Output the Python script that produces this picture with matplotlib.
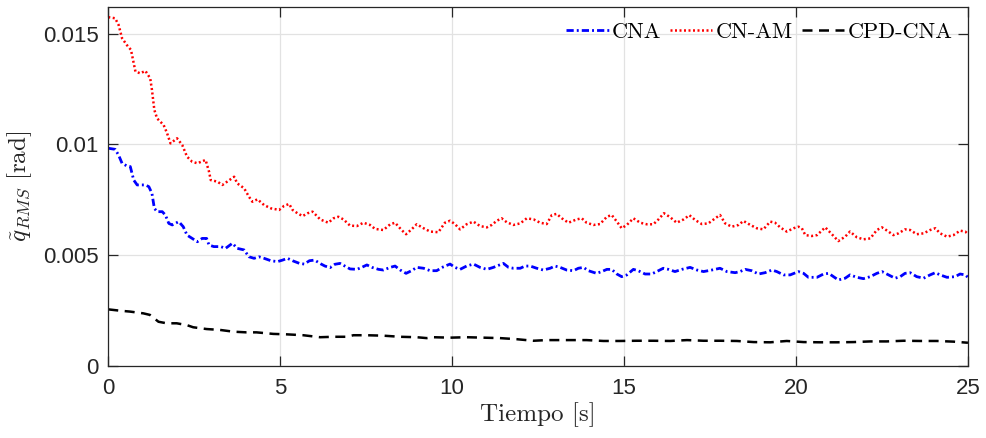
import numpy as np
import matplotlib
matplotlib.use("Agg")
import matplotlib.pyplot as plt

# ---------------- data ----------------
cna_t = [0.0, 0.2, 0.3, 0.4, 0.54, 0.64, 0.74, 0.84, 1.08, 1.18, 1.27, 1.34, 1.42, 1.57, 1.66,
         1.76, 1.86, 2.05, 2.18, 2.29, 2.44, 2.59, 2.73, 2.86, 2.93, 3.07, 3.27, 3.41, 3.61, 3.75,
         3.95, 4.09, 4.24, 4.38, 4.53, 4.73, 4.92, 5.07, 5.21, 5.36, 5.56, 5.70, 5.85, 6.00, 6.19,
         6.30, 6.45, 6.59, 6.74, 6.88, 7.03, 7.23, 7.37, 7.52, 7.67, 7.86, 8.00, 8.20, 8.34, 8.49,
         8.66, 8.82, 8.97, 9.17, 9.36, 9.55, 9.75, 9.94, 10.08, 10.23, 10.42, 10.62, 10.81, 11.01,
         11.20, 11.49, 11.64, 11.78, 11.98, 12.12, 12.27, 12.46, 12.65, 12.85, 12.99, 13.14, 13.33,
         13.53, 13.67, 13.82, 13.96, 14.20, 14.35, 14.50, 14.64, 14.79, 14.93, 15.08, 15.27, 15.41,
         15.61, 15.80, 15.95, 16.14, 16.29, 16.48, 16.68, 16.92, 17.12, 17.31, 17.55, 17.79, 17.99,
         18.23, 18.37, 18.52, 18.71, 18.91, 19.10, 19.30, 19.44, 19.64, 19.83, 20.07, 20.22, 20.36,
         20.61, 20.80, 20.95, 21.09, 21.23, 21.43, 21.57, 21.77, 21.96, 22.16, 22.35, 22.50, 22.69,
         22.88, 23.03, 23.17, 23.32, 23.51, 23.71, 23.90, 24.05, 24.19, 24.39, 24.63, 24.77, 24.92,
         25.0]
cna_q = [0.00983, 0.00978, 0.00952, 0.00915, 0.00903, 0.00900, 0.00839, 0.00817, 0.00817, 0.00809,
         0.00779, 0.00711, 0.00696, 0.00696, 0.00681, 0.00643, 0.00636, 0.00651, 0.00628, 0.00590,
         0.00575, 0.00560, 0.00575, 0.00575, 0.00545, 0.00538, 0.00538, 0.00530, 0.00553, 0.00530,
         0.00523, 0.00492, 0.00485, 0.00492, 0.00485, 0.00474, 0.00470, 0.00477, 0.00485, 0.00474,
         0.00462, 0.00459, 0.00474, 0.00477, 0.00459,
         0.00450, 0.00443, 0.00458, 0.00462, 0.00450, 0.00437, 0.00435, 0.00444, 0.00455, 0.00444,
         0.00435, 0.00432, 0.00444, 0.00450, 0.00432, 0.00417, 0.00429, 0.00444, 0.00440, 0.00429,
         0.00429, 0.00447, 0.00459, 0.00444, 0.00435, 0.00450, 0.00459, 0.00444, 0.00435, 0.00444,
         0.00462, 0.00444, 0.00440, 0.00440, 0.00450, 0.00450, 0.00440, 0.00432, 0.00440, 0.00450,
         0.00444, 0.00432, 0.00429, 0.00440, 0.00444, 0.00429, 0.00417, 0.00425, 0.00435, 0.00435,
         0.00414, 0.00402, 0.00410, 0.00435, 0.00429,
         0.00414, 0.00414, 0.00425, 0.00440, 0.00435, 0.00425, 0.00435, 0.00444, 0.00432, 0.00425,
         0.00432, 0.00440, 0.00425, 0.00420, 0.00425, 0.00435, 0.00429, 0.00414, 0.00420, 0.00432,
         0.00425, 0.00410, 0.00410, 0.00425, 0.00417, 0.00399, 0.00399, 0.00414, 0.00417, 0.00402,
         0.00387, 0.00395, 0.00410, 0.00399, 0.00393, 0.00402, 0.00417, 0.00425, 0.00410, 0.00395,
         0.00402, 0.00417, 0.00420, 0.00402, 0.00395, 0.00410, 0.00420, 0.00410, 0.00399, 0.00402,
         0.00414, 0.00410, 0.00399]

cnam_t = [0.0, 0.2, 0.3, 0.4, 0.54, 0.66, 0.74, 0.79, 0.93, 1.08, 1.22, 1.27, 1.34, 1.42, 1.61,
          1.71, 1.81, 2.0, 2.15, 2.29, 2.44, 2.59, 2.83, 2.93, 2.98, 3.17, 3.32, 3.46, 3.66, 3.75,
          3.95, 4.09, 4.19, 4.34, 4.53, 4.73, 4.97, 5.11, 5.26, 5.36, 5.5, 5.65, 5.8, 5.94, 6.09,
          6.16, 6.40, 6.55, 6.69, 6.84, 7.03, 7.23, 7.42, 7.61, 7.76, 8.00, 8.20, 8.34, 8.53, 8.66,
          8.82, 8.97, 9.17, 9.36, 9.60, 9.79, 9.94, 10.08, 10.23, 10.42, 10.62, 10.81, 11.01, 11.15,
          11.30, 11.44, 11.59, 11.78, 11.98, 12.17, 12.37, 12.56, 12.75, 12.90, 13.04, 13.19, 13.38,
          13.62, 13.77, 13.91, 14.11, 14.30, 14.50, 14.64, 14.79, 14.93, 15.08, 15.27,
          15.47, 15.66, 15.85, 16.00, 16.16, 16.34, 16.53, 16.73, 16.90, 17.07, 17.26, 17.45, 17.65,
          17.79, 17.94, 18.13, 18.33, 18.47, 18.67, 18.86, 19.05, 19.25, 19.39, 19.54, 19.73, 19.93,
          20.07, 20.17, 20.27, 20.46, 20.61, 20.85, 21.00, 21.23, 21.43, 21.57, 21.77, 21.96, 22.16,
          22.35, 22.50, 22.69, 22.83, 22.98, 23.17, 23.32, 23.51, 23.71, 23.90, 24.05, 24.19, 24.39,
          24.58, 24.77, 24.92, 25.0]
cnam_q = [0.01576, 0.01571, 0.01541, 0.01481, 0.01450, 0.01428, 0.01367, 0.01330, 0.01322, 0.01333,
          0.01299, 0.01247, 0.01156, 0.01118, 0.01088, 0.01051, 0.01005, 0.01028, 0.00998, 0.00945,
          0.00922, 0.00915, 0.00930, 0.00877, 0.00839, 0.00832, 0.00817, 0.00832, 0.00854, 0.00824,
          0.00802, 0.00764, 0.00741, 0.00752, 0.00726, 0.00711, 0.00704, 0.00722, 0.00731, 0.00704,
          0.00689, 0.00676, 0.00689, 0.00696, 0.00673,
          0.00661, 0.00646, 0.00666, 0.00673, 0.00661, 0.00633, 0.00631, 0.00646, 0.00636, 0.00618,
          0.00613, 0.00639, 0.00646, 0.00613, 0.00594, 0.00616, 0.00639, 0.00621, 0.00606, 0.00603,
          0.00646, 0.00655, 0.00640, 0.00616, 0.00639, 0.00651, 0.00631, 0.00625, 0.00636, 0.00655,
          0.00666, 0.00648, 0.00636, 0.00643, 0.00666, 0.00661, 0.00646, 0.00640, 0.00681, 0.00686,
          0.00666, 0.00646, 0.00661, 0.00666, 0.00646, 0.00636, 0.00640, 0.00673, 0.00681, 0.00651,
          0.00621, 0.00636, 0.00666,
          0.00646, 0.00639, 0.00639, 0.00661, 0.00689, 0.00671, 0.00646, 0.00661, 0.00680, 0.00658,
          0.00640, 0.00643, 0.00666, 0.00681, 0.00643, 0.00628, 0.00636, 0.00654, 0.00636, 0.00621,
          0.00616, 0.00651, 0.00646, 0.00625, 0.00606, 0.00621, 0.00628, 0.00621, 0.00590, 0.00586,
          0.00590, 0.00625, 0.00601, 0.00563, 0.00583, 0.00606, 0.00580, 0.00571, 0.00575, 0.00613,
          0.00625, 0.00606, 0.00590, 0.00598, 0.00616, 0.00613, 0.00594, 0.00598, 0.00613, 0.00621,
          0.00598, 0.00583, 0.00590, 0.00610, 0.00606, 0.00595]

cpd_t = [0.0, 0.34, 0.63, 1.02, 1.21, 1.46, 1.70, 1.99, 2.28, 2.47, 2.86, 3.25, 3.64, 4.02, 4.31,
         4.80, 5.19, 5.67, 6.16, 6.55, 6.93, 7.13, 7.51, 8.00, 8.48, 8.97, 9.26, 9.45, 9.94, 10.42,
         10.91, 11.39, 11.88, 12.36, 12.75, 12.94, 13.43, 13.91, 14.40, 14.88, 15.37, 15.85, 16.34,
         16.83, 17.31, 17.80, 18.28, 18.77, 19.25, 19.73, 20.22, 20.70, 21.19, 21.67, 22.16, 22.64,
         23.13, 23.61, 24.10, 24.58, 25.0]
cpd_q = [0.00254, 0.00248, 0.00244, 0.00236, 0.00229, 0.00198, 0.00191, 0.00191, 0.00183, 0.00173,
         0.00165, 0.00161, 0.00153, 0.00150, 0.00150, 0.00143, 0.00141, 0.00137, 0.00128, 0.00130,
         0.00130, 0.00137, 0.00137, 0.00135, 0.00130, 0.00128, 0.00124, 0.00128, 0.00126, 0.00128,
         0.00126, 0.00124, 0.00119, 0.00112, 0.00115, 0.00115, 0.00115, 0.00115, 0.00111, 0.00111,
         0.00112, 0.00112, 0.00111, 0.00115, 0.00112, 0.00112, 0.00111, 0.00106, 0.00105, 0.00111,
         0.00106, 0.00105, 0.00105, 0.00106, 0.00109, 0.00109, 0.00112, 0.00111, 0.00111, 0.00108,
         0.00103]

series_labels = ["CNA", "CN-AM", "CPD-CNA"]
x_ticks = [0, 5, 10, 15, 20, 25]
y_ticks = [0, 0.005, 0.01, 0.015]
y_tick_labels = ["0", "0.005", "0.01", "0.015"]
x_label = "Tiempo [s]"

# ---------------- figure ----------------
plt.rcParams["mathtext.fontset"] = "cm"
plt.rcParams["font.family"] = ["Liberation Sans", "DejaVu Sans"]
serif_cm = ["cmr10", "DejaVu Serif"]

fig = plt.figure(figsize=(9.87, 4.38), dpi=100)
ax = fig.add_axes([0.1097, 0.1655, 0.8710, 0.8185])

axis_col = "#262626"
ax.plot(cna_t, cna_q, color=(0, 0, 1), lw=2.0, linestyle=(0, (2.6, 1.1, 0.7, 1.1)),
        label=series_labels[0])
ax.plot(cnam_t, cnam_q, color=(1, 0, 0), lw=1.8, linestyle=(0, (0.8, 1.0)),
        label=series_labels[1])
ax.plot(cpd_t, cpd_q, color="black", lw=1.8, linestyle=(0, (4.0, 2.6)),
        label=series_labels[2])

ax.set_xlim(0, 25)
ax.set_ylim(0, 0.01622)
ax.set_xticks(x_ticks)
ax.set_yticks(y_ticks)
ax.set_yticklabels(y_tick_labels)

ax.grid(True, color="#e2e2e2", lw=0.9)
ax.set_axisbelow(True)
for s in ax.spines.values():
    s.set_color(axis_col)
    s.set_linewidth(0.9)
ax.tick_params(direction="in", length=7, width=0.9, colors=axis_col,
               labelsize=16, top=True, right=True, pad=7)
ax.tick_params(axis="x", pad=9)

ax.set_xlabel(x_label, fontsize=18, color=axis_col, labelpad=2, family=serif_cm)
ax.set_ylabel(r"$\tilde{q}_{RMS}\ \mathrm{[rad]}$", fontsize=18, color=axis_col, labelpad=6)

leg = ax.legend(loc="upper right", ncol=3, frameon=False,
                prop={"family": serif_cm, "size": 16},
                handlelength=1.9, handletextpad=0.15, columnspacing=0.4,
                borderaxespad=0.3, bbox_to_anchor=(1.0, 1.0))
for t in leg.get_texts():
    t.set_color("black")

fig.savefig("out.png", dpi=100)
